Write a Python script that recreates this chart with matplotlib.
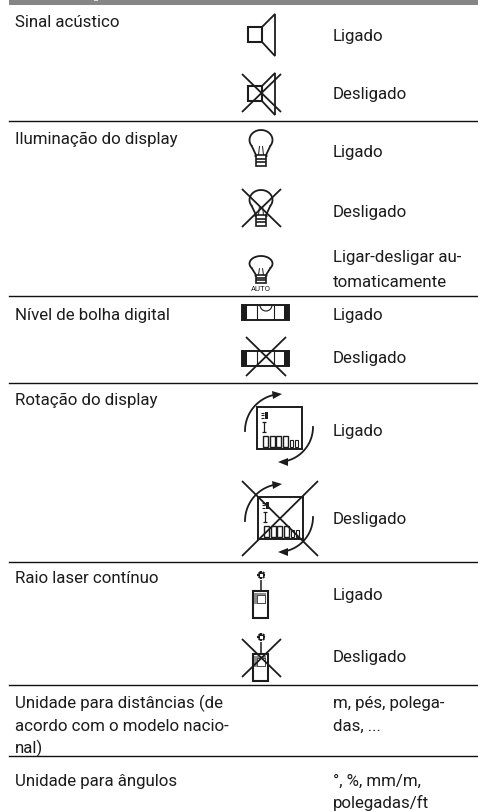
import numpy as np
import matplotlib
matplotlib.use("Agg")
import matplotlib.pyplot as plt
from matplotlib.patches import Rectangle, Arc, Polygon

plt.rcParams['font.family'] = ['Roboto', 'DejaVu Sans']

INK = '#1c1c1c'
SIZE = 12.2

# texts: (x, baseline y, string)
left_labels = [
    (15, 27, 'Sinal acústico'),
    (15, 144, 'Iluminação do display'),
    (15, 320, 'Nível de bolha digital'),
    (15, 405, 'Rotação do display'),
    (15, 583, 'Raio laser contínuo'),
    (15, 708, 'Unidade para distâncias (de'),
    (15, 731, 'acordo com o modelo nacio-'),
    (15, 753, 'nal)'),
    (15, 786, 'Unidade para ângulos'),
]
right_labels = [
    (333, 41, 'Ligado'),
    (333, 99, 'Desligado'),
    (333, 157, 'Ligado'),
    (333, 217, 'Desligado'),
    (333, 262, 'Ligar-desligar au-'),
    (333, 287, 'tomaticamente'),
    (333, 320, 'Ligado'),
    (333, 363, 'Desligado'),
    (333, 436, 'Ligado'),
    (333, 524, 'Desligado'),
    (333, 600, 'Ligado'),
    (333, 662, 'Desligado'),
    (333, 708, 'm, pés, polega-'),
    (333, 731, 'das, ...'),
    (333, 786, '°, %, mm/m,'),
    (333, 808, 'polegadas/ft'),
]
rule_rows = [122, 297, 384, 563, 686, 757]
# crosses over the "off" icons: x0, y0, x1, y1
crosses = [
    (242, 75, 281, 113),
    (242, 190, 281, 228),
    (246, 338, 286, 377),
    (242, 482, 318, 557),
    (242, 640, 281, 678),
]

fig = plt.figure(figsize=(4.78, 8.12), dpi=100)
ax = fig.add_axes([0, 0, 1, 1])
ax.set_xlim(0, 478)
ax.set_ylim(812, 0)
ax.axis('off')


def line(xs, ys, lw=1.1):
    ax.plot(xs, ys, color=INK, lw=lw, solid_capstyle='butt')


def speaker(y):
    ax.add_patch(Rectangle((248, y), 14, 15, fill=False, ec=INK, lw=1.5))
    ax.add_patch(Polygon([(262, y), (275, y - 13), (275, y + 29), (262, y + 15)],
                         closed=True, fill=False, ec=INK, lw=1.3))


def bulb(top, s=1.0):
    # s squeezes the bulb vertically
    cx = 261
    cy = top + 10 * s
    t = np.radians(np.linspace(-35, 215, 40))
    ax.plot(cx + 11.5 * np.cos(t), cy - 10 * s * np.sin(t), color=INK, lw=1.3)
    line([cx - 9.4, cx - 5.5, cx - 5.5], [cy + 5.7 * s, cy + 14 * s, cy + 17 * s], 1.3)
    line([cx + 9.4, cx + 5.5, cx + 5.5], [cy + 5.7 * s, cy + 14 * s, cy + 17 * s], 1.3)
    line([cx - 2.5, cx - 1.5], [cy + 15 * s, cy + 6 * s], 0.7)
    line([cx + 2.5, cx + 1.5], [cy + 15 * s, cy + 6 * s], 0.7)
    ax.add_patch(Rectangle((cx - 5, cy + 15 * s), 10, 11 * s, fill=False, ec=INK, lw=1.2))
    for k in [18.5, 22]:
        line([cx - 5, cx + 5], [cy + k * s, cy + k * s], 1.2)


def level(y):
    ax.add_patch(Rectangle((242, y), 47, 15, fill=False, ec=INK, lw=1.4))
    ax.add_patch(Rectangle((242, y), 5, 15, color=INK, lw=0))
    ax.add_patch(Rectangle((284, y), 5, 15, color=INK, lw=0))
    line([257, 257], [y, y + 15], 0.8)
    line([274.5, 274.5], [y, y + 15], 0.8)


def display(x, y):
    ax.add_patch(Rectangle((x, y), 45, 42, fill=False, ec=INK, lw=1.4))
    ax.add_patch(Rectangle((x + 8, y + 5), 3.5, 7, color=INK, lw=0))
    for k in range(3):
        line([x + 4, x + 7], [y + 5.5 + 2.5 * k] * 2, 0.8)
    line([x + 7, x + 7], [y + 15, y + 25], 0.9)
    line([x + 5, x + 9], [y + 15, y + 15], 0.9)
    line([x + 5, x + 9], [y + 25, y + 25], 0.9)
    for k in range(4):
        ax.add_patch(Rectangle((x + 6 + 6.6 * k, y + 29), 5, 11, fill=False, ec=INK, lw=1.0))
    for k in range(2):
        ax.add_patch(Rectangle((x + 33 + 5 * k, y + 33), 3, 7, fill=False, ec=INK, lw=0.8))


def arrows(dy):
    t = np.radians(np.linspace(180, 262, 30))
    ax.plot(282 + 37 * np.cos(t), 432 + dy + 37 * np.sin(t), color=INK, lw=1.3)
    ax.add_patch(Polygon([(282, 395 + dy), (272, 392 + dy), (273, 400 + dy)], color=INK, lw=0))
    t = np.radians(np.linspace(0, 82, 30))
    ax.plot(278 + 35 * np.cos(t), 428 + dy + 35 * np.sin(t), color=INK, lw=1.3)
    ax.add_patch(Polygon([(278, 463 + dy), (288, 459 + dy), (288, 467 + dy)], color=INK, lw=0))


def laser(star, dev):
    cx = 261.5
    for a in [0, 45, 90, 135]:
        dx, dy = 4 * np.cos(np.radians(a)), 4 * np.sin(np.radians(a))
        line([cx - dx, cx + dx], [star - dy, star + dy], 1.6)
    ax.add_patch(Rectangle((cx - 1.5, star - 1.5), 3, 3, color='white', lw=0, zorder=3))
    line([cx, cx], [star + 5, dev], 1.1)
    ax.add_patch(Rectangle((253, dev), 15, 27, fill=False, ec=INK, lw=1.5))
    ax.add_patch(Rectangle((254.5, dev + 2), 12, 11, fc='#8c8c8c', ec='none'))
    ax.add_patch(Rectangle((257.5, dev + 4), 8, 7.5, fc='white', ec=INK, lw=0.5))


# header band, with the cut-off tail of its text
ax.add_patch(Rectangle((9, 0), 469, 5.7, color='#868686', lw=0))
ax.add_patch(Rectangle((94.5, 0), 3.5, 1.5, color='#dddddd', lw=0))

for row in rule_rows:
    ax.plot([9, 478], [row, row], color='#111111', lw=1.0)

for x, y, s in left_labels + right_labels:
    ax.text(x, y, s, fontsize=SIZE, color=INK, va='baseline', ha='left')

speaker(28)
speaker(87)
bulb(131)
bulb(191)
bulb(257, 0.76)
ax.text(260.5, 291.5, 'AUTO', fontsize=5.6, color=INK, ha='center', va='baseline')
level(306)
level(352)
ax.add_patch(Arc((266, 306), 12, 12, theta1=0, theta2=180, ec=INK, lw=0.8))
display(257, 408)
arrows(0)
display(258, 498)
arrows(90)
laser(576, 592)
laser(638, 655)

for x0, y0, x1, y1 in crosses:
    line([x0, x1], [y0, y1], 1.3)
    line([x0, x1], [y1, y0], 1.3)

fig.savefig('out.png', dpi=100)
